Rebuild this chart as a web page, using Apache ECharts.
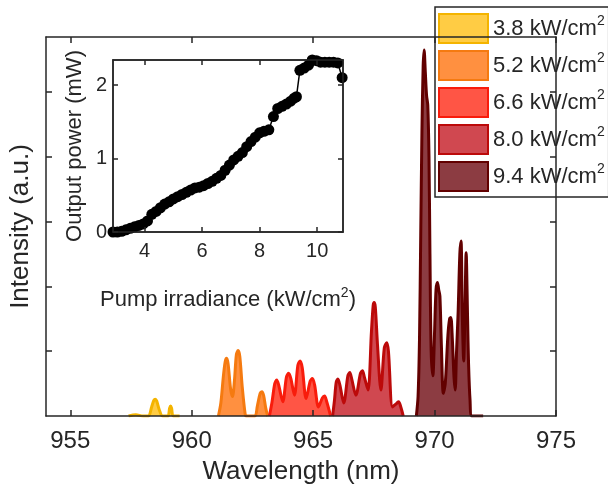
<!DOCTYPE html>
<html>
<head>
<meta charset="utf-8">
<script src="https://cdn.jsdelivr.net/npm/echarts/dist/echarts.min.js"></script>
<style>
html,body{margin:0;padding:0;background:#fff;}
#chart{width:608px;height:495px;}
</style>
</head>
<body>
<div id="chart"></div>
<script>
// ---- Data ----
const seriesNames = ['3.8 kW/cm', '5.2 kW/cm', '6.6 kW/cm', '8.0 kW/cm', '9.4 kW/cm'];
const xTicksMain = [955, 960, 965, 970, 975];
const yTicksMain = [1, 2, 3, 4, 5];
const xTicksInset = [4, 6, 8, 10];
const yTicksInset = [0, 1, 2];

const spec38 = [[957.4,0],[957.7,0.02],[958.0,0],[958.22,0],[958.35,0.14],[958.44,0.24],[958.5,0.26],[958.56,0.23],[958.66,0.1],[958.8,0],[959.02,0],[959.09,0.12],[959.13,0.155],[959.17,0.12],[959.24,0],[959.5,0]];
const spec52 = [[961.1,0],[961.2,0.2],[961.3,0.6],[961.38,0.84],[961.44,0.89],[961.5,0.8],[961.6,0.42],[961.68,0.3],[961.76,0.55],[961.84,0.95],[961.91,1.01],[961.98,0.92],[962.08,0.45],[962.2,0.03],[962.25,0],[962.6,0],[962.7,0.15],[962.82,0.35],[962.89,0.375],[962.96,0.32],[963.05,0.12],[963.13,0]];
const spec66 = [[963.2,0],[963.3,0.2],[963.42,0.5],[963.5,0.556],[963.58,0.48],[963.75,0.22],[963.9,0.6],[963.99,0.66],[964.08,0.58],[964.23,0.32],[964.37,0.78],[964.46,0.85],[964.55,0.75],[964.71,0.27],[964.88,0.54],[964.97,0.58],[965.06,0.48],[965.22,0.14],[965.38,0.28],[965.47,0.31],[965.56,0.22],[965.72,0]];
const spec80 = [[965.8,0],[965.88,0.25],[965.95,0.52],[966.02,0.57],[966.1,0.48],[966.26,0.2],[966.43,0.62],[966.51,0.67],[966.59,0.57],[966.76,0.32],[966.95,0.66],[967.03,0.7],[967.11,0.6],[967.26,0.4],[967.4,1.3],[967.47,1.7],[967.51,1.75],[967.56,1.68],[967.65,1.1],[967.79,0.4],[967.93,1.05],[968.03,1.13],[968.1,1.0],[968.27,0.14],[968.45,0.2],[968.52,0.22],[968.6,0.15],[968.71,0]];
const spec94 = [[969.25,0],[969.32,0.3],[969.38,1.2],[969.43,2.8],[969.48,4.4],[969.53,5.4],[969.57,5.65],[969.62,5.3],[969.67,4.95],[969.72,4.8],[969.77,4.0],[969.81,2.5],[969.86,1.0],[969.93,0.62],[970.0,1.3],[970.06,1.95],[970.12,2.06],[970.17,1.95],[970.22,1.85],[970.28,1.1],[970.36,0.35],[970.44,0.5],[970.55,1.25],[970.62,1.5],[970.67,1.52],[970.73,1.2],[970.8,0.6],[970.85,0.4],[970.9,0.95],[970.97,1.6],[971.04,2.5],[971.09,2.7],[971.14,1.6],[971.2,0.85],[971.25,1.6],[971.3,2.52],[971.36,1.5],[971.4,0.8],[971.46,0.25],[971.54,0],[972.0,0]];

const pumpIrr = [2.9,3.05,3.2,3.35,3.5,3.65,3.8,3.95,4.1,4.25,4.4,4.55,4.7,4.85,5.0,5.15,5.3,5.45,5.6,5.75,5.9,6.05,6.2,6.35,6.5,6.65,6.8,6.95,7.1,7.25,7.4,7.55,7.7,7.85,8.0,8.15,8.32,8.48,8.63,8.78,8.93,9.08,9.2,9.28,9.4,9.55,9.7,9.83,9.98,10.12,10.27,10.42,10.57,10.72,10.87];
const outPower = [0,0,0.01,0.03,0.05,0.07,0.09,0.11,0.15,0.24,0.28,0.33,0.38,0.41,0.45,0.48,0.51,0.54,0.57,0.6,0.61,0.63,0.66,0.69,0.73,0.77,0.84,0.91,0.98,1.03,1.08,1.16,1.23,1.29,1.35,1.37,1.39,1.57,1.68,1.71,1.74,1.78,1.82,1.84,2.2,2.23,2.27,2.34,2.33,2.31,2.31,2.31,2.31,2.3,2.1];

const fillColors = ['#FFCC44', '#FF9040', '#FF5545', '#D04850', '#8C3C42'];
const lineColors = ['#F4B400', '#F57A10', '#F81C0C', '#BC0A0A', '#620000'];
const spectra = [spec38, spec52, spec66, spec80, spec94];

// ---- Chart ----
const FONT = 'Liberation Sans, Arial, Helvetica, sans-serif';
const TXT = '#262626';
const chart = echarts.init(document.getElementById('chart'), null, {renderer: 'canvas'});

const axLine = {show: true, onZero: false, lineStyle: {color: '#262626', width: 1.5}};

const mainSeries = spectra.map((d, i) => ({
  name: seriesNames[i],
  type: 'line',
  xAxisIndex: 0, yAxisIndex: 0,
  data: d,
  smooth: 0.3,
  symbol: 'none',
  lineStyle: {color: lineColors[i], width: 3},
  itemStyle: {color: fillColors[i], borderColor: lineColors[i]},
  areaStyle: {color: fillColors[i], opacity: 1},
  z: 2 + i * 0.1
}));

const supRich = {
  a: {fontSize: 22, fontFamily: FONT, color: TXT, lineHeight: 28},
  s: {fontSize: 14, fontFamily: FONT, color: TXT, verticalAlign: 'top', lineHeight: 28, padding: [0, 0, 10, 0]}
};

const option = {
  backgroundColor: '#fff',
  animation: false,
  textStyle: {fontFamily: FONT},
  grid: [
    {left: 46, right: 52, top: 37, bottom: 79, containLabel: false},
    {left: 113, top: 60, width: 230, height: 172, show: true, backgroundColor: '#fff', borderColor: '#262626', borderWidth: 1.5, containLabel: false}
  ],
  legend: {
    orient: 'vertical', left: 435, top: 7,
    padding: [6, 4, 5, 3],
    itemWidth: 49, itemHeight: 29, itemGap: 6,
    backgroundColor: '#fff', borderColor: '#262626', borderWidth: 1.5,
    icon: 'rect',
    data: seriesNames.map((n, i) => ({name: n, itemStyle: {color: fillColors[i], borderColor: lineColors[i], borderWidth: 2}})),
    formatter: n => '{a|' + n + '}{s|2}',
    textStyle: {fontFamily: FONT, color: TXT, rich: supRich}
  },
  xAxis: [
    {gridIndex: 0, type: 'value', min: 954, max: 975, position: 'bottom', z: 10,
     axisLine: axLine, splitLine: {show: false},
     axisTick: {inside: true, length: 6, customValues: xTicksMain, lineStyle: {color: '#262626', width: 1.5}},
     axisLabel: {customValues: xTicksMain, fontSize: 24, color: TXT, fontFamily: FONT, margin: 13},
     name: 'Wavelength (nm)', nameLocation: 'middle', nameGap: 43,
     nameTextStyle: {fontSize: 26, color: TXT, fontFamily: FONT}},
    {gridIndex: 0, type: 'value', min: 954, max: 975, position: 'top', z: 10,
     axisLine: axLine, splitLine: {show: false},
     axisTick: {inside: true, length: 6, customValues: xTicksMain, lineStyle: {color: '#262626', width: 1.5}},
     axisLabel: {show: false}},
    {gridIndex: 1, type: 'value', min: 2.9, max: 10.9, position: 'bottom', z: 10,
     axisLine: axLine, splitLine: {show: false},
     axisTick: {inside: true, length: 5, customValues: xTicksInset, lineStyle: {color: '#262626', width: 1.5}},
     axisLabel: {customValues: xTicksInset, fontSize: 20, color: TXT, fontFamily: FONT, margin: 9},
     name: '{a|Pump irradiance (kW/cm}{s|2}{a|)}', nameLocation: 'middle', nameGap: 54,
     nameTextStyle: {fontSize: 22, color: TXT, fontFamily: FONT, rich: supRich}},
    {gridIndex: 1, type: 'value', min: 2.9, max: 10.9, position: 'top', z: 10,
     axisLine: axLine, splitLine: {show: false},
     axisTick: {inside: true, length: 5, customValues: xTicksInset, lineStyle: {color: '#262626', width: 1.5}},
     axisLabel: {show: false}}
  ],
  yAxis: [
    {gridIndex: 0, type: 'value', min: 0, max: 5.85, position: 'left', z: 10,
     axisLine: axLine, splitLine: {show: false},
     axisTick: {inside: true, length: 6, customValues: yTicksMain, lineStyle: {color: '#262626', width: 1.5}},
     axisLabel: {show: false},
     name: 'Intensity (a.u.)', nameLocation: 'middle', nameGap: 12,
     nameTextStyle: {fontSize: 26, color: TXT, fontFamily: FONT}},
    {gridIndex: 0, type: 'value', min: 0, max: 5.85, position: 'right', z: 10,
     axisLine: axLine, splitLine: {show: false},
     axisTick: {inside: true, length: 6, customValues: yTicksMain, lineStyle: {color: '#262626', width: 1.5}},
     axisLabel: {show: false}},
    {gridIndex: 1, type: 'value', min: 0, max: 2.34, position: 'left', z: 10,
     axisLine: axLine, splitLine: {show: false},
     axisTick: {inside: true, length: 5, customValues: yTicksInset, lineStyle: {color: '#262626', width: 1.5}},
     axisLabel: {customValues: yTicksInset, fontSize: 20, color: TXT, fontFamily: FONT, margin: 6},
     name: 'Output power (mW)', nameLocation: 'middle', nameGap: 27,
     nameTextStyle: {fontSize: 22, color: TXT, fontFamily: FONT}},
    {gridIndex: 1, type: 'value', min: 0, max: 2.34, position: 'right', z: 10,
     axisLine: axLine, splitLine: {show: false},
     axisTick: {inside: true, length: 5, customValues: yTicksInset, lineStyle: {color: '#262626', width: 1.5}},
     axisLabel: {show: false}}
  ],
  series: mainSeries.concat([{
    name: 'inset',
    type: 'line',
    xAxisIndex: 2, yAxisIndex: 2,
    data: pumpIrr.map((x, i) => [x, outPower[i]]),
    symbol: 'circle', symbolSize: 11,
    clip: false,
    lineStyle: {color: '#000', width: 1.5},
    itemStyle: {color: '#000'},
    z: 5
  }])
};
chart.setOption(option);
</script>
</body>
</html>
